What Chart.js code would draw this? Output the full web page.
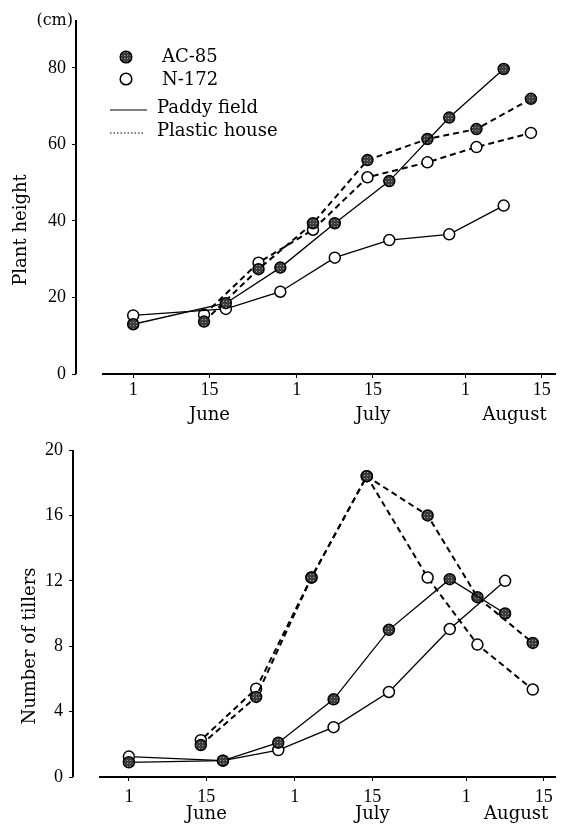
<!DOCTYPE html>
<html>
<head>
<meta charset="utf-8">
<script src="https://cdn.jsdelivr.net/npm/chart.js@4/dist/chart.umd.min.js"></script>
<style>
  html, body { margin: 0; padding: 0; background: #fff; }
  #wrap { position: relative; width: 563px; height: 829px; }
  canvas { position: absolute; left: 0; }
  #top { top: 0; }
  #bottom { top: 420px; }
</style>
</head>
<body>
<div id="wrap">
  <canvas id="top" width="563" height="434"></canvas>
  <canvas id="bottom" width="563" height="409"></canvas>
</div>
<script>
// days counted from June 1 (= day 1)
var paddyDays = [1, 18, 28, 38, 48, 59, 69];
var plasticDays = [14, 24, 34, 44, 55, 64, 74];

// plant height (cm)
var heightAcPaddy = [13.0, 18.5, 27.8, 39.4, 50.4, 67.0, 79.7];
var heightAcPlastic = [13.7, 27.4, 39.4, 55.9, 61.4, 64.0, 71.9];
var heightNPaddy = [15.3, 17.0, 21.5, 30.4, 35.0, 36.5, 44.0];
var heightNPlastic = [15.5, 29.1, 37.7, 51.4, 55.3, 59.3, 63.0];

// number of tillers
var tillerAcPaddy = [0.9, 1.0, 2.1, 4.75, 9.0, 12.1, 10.0];
var tillerAcPlastic = [1.95, 4.9, 12.2, 18.4, 16.0, 11.0, 8.2];
var tillerNPaddy = [1.25, 1.0, 1.65, 3.05, 5.2, 9.05, 12.0];
var tillerNPlastic = [2.25, 5.4, 12.2, 18.4, 12.2, 8.1, 5.35];

// axis ticks
var tickDays = [1, 15, 31, 45, 62, 76];
var tickLabels = ['1', '15', '1', '15', '1', '15'];
var monthNames = ['June', 'July', 'August'];
var monthDays = [15, 45, 71];
var heightTicks = [0, 20, 40, 60, 80];
var tillerTicks = [0, 4, 8, 12, 16, 20];

var numFont = { family: 'Liberation Serif', size: 18 };
var wordFont = '18px "DejaVu Serif"';

Chart.defaults.color = '#000';
Chart.defaults.font.family = 'Liberation Serif';

// speckled fill for the AC-85 markers
function speckle() {
    var c = document.createElement('canvas');
    c.width = 3; c.height = 3;
    var g = c.getContext('2d');
    g.fillStyle = '#3d3d3d';
    g.fillRect(0, 0, 3, 3);
    g.fillStyle = '#9a9a9a';
    g.fillRect(1, 1, 1, 1);
    return g.createPattern(c, 'repeat');
}
var darkFill = speckle();

function series(days, vals, filled, dashed, dashShift) {
    return {
        data: days.map(function (d, i) { return { x: d, y: vals[i] }; }),
        borderColor: '#000',
        borderWidth: dashed ? 2 : 1.3,
        borderDash: dashed ? [6, 4] : [],
        borderDashOffset: dashShift || 0,
        pointRadius: 5.5,
        pointBorderWidth: 1.5,
        pointBorderColor: '#000',
        pointBackgroundColor: filled ? darkFill : '#fff',
        tension: 0,
        fill: false
    };
}

// axis lines: y axis full height, x axis starting a little right of it
var axisLines = {
    id: 'axisLines',
    beforeDatasetsDraw: function (chart) {
        var ctx = chart.ctx, a = chart.chartArea;
        ctx.save();
        ctx.strokeStyle = '#000';
        ctx.lineWidth = 2;
        ctx.beginPath();
        ctx.moveTo(a.left, a.top);
        ctx.lineTo(a.left, a.bottom);
        ctx.moveTo(a.left + 26, a.bottom);
        ctx.lineTo(a.right, a.bottom);
        ctx.stroke();
        ctx.restore();
    }
};

// month names under the day ticks and the rotated y title
function textPlugin(title, titleX, titleY, monthOffset) {
    return {
        id: 'texts',
        afterDraw: function (chart) {
            var ctx = chart.ctx, a = chart.chartArea, xs = chart.scales.x;
            ctx.save();
            ctx.fillStyle = '#000';
            ctx.font = wordFont;
            ctx.textAlign = 'center';
            ctx.textBaseline = 'middle';
            monthNames.forEach(function (m, i) {
                ctx.fillText(m, xs.getPixelForValue(monthDays[i]), a.bottom + monthOffset);
            });
            ctx.translate(titleX, titleY);
            ctx.rotate(-Math.PI / 2);
            ctx.fillText(title, 0, 0);
            ctx.restore();
        }
    };
}

// legend of the upper panel
var legendPlugin = {
    id: 'legendBox',
    afterDraw: function (chart) {
        var ctx = chart.ctx;
        ctx.save();
        ctx.lineWidth = 1.5;
        ctx.strokeStyle = '#000';
        ctx.beginPath();
        ctx.arc(126, 57, 5.8, 0, Math.PI * 2);
        ctx.fillStyle = darkFill;
        ctx.fill();
        ctx.stroke();
        ctx.beginPath();
        ctx.arc(126, 79, 5.8, 0, Math.PI * 2);
        ctx.fillStyle = '#fff';
        ctx.fill();
        ctx.stroke();

        ctx.lineWidth = 1;
        ctx.beginPath();
        ctx.moveTo(110, 110);
        ctx.lineTo(147, 110);
        ctx.stroke();
        ctx.setLineDash([1.5, 2]);
        ctx.beginPath();
        ctx.moveTo(110, 133);
        ctx.lineTo(145, 133);
        ctx.stroke();
        ctx.setLineDash([]);

        ctx.fillStyle = '#000';
        ctx.font = wordFont;
        ctx.textBaseline = 'middle';
        ctx.fillText('AC-85', 162, 57);
        ctx.fillText('N-172', 162, 80);
        ctx.fillText('Paddy field', 157, 108);
        ctx.fillText('Plastic house', 157, 131);

        ctx.font = '16px "DejaVu Serif"';
        ctx.textAlign = 'right';
        ctx.fillText('(cm)', 73, 21);
        ctx.restore();
    }
};

function makeChart(id, datasets, opt) {
    return new Chart(document.getElementById(id), {
        type: 'line',
        data: { datasets: datasets },
        options: {
            responsive: false,
            animation: false,
            events: [],
            layout: { padding: { top: opt.top, right: 3, left: 0, bottom: 0 } },
            plugins: { legend: { display: false }, tooltip: { enabled: false } },
            scales: {
                x: {
                    type: 'linear',
                    min: opt.xMin,
                    max: opt.xMax,
                    afterBuildTicks: function (s) {
                        s.ticks = tickDays.map(function (v) { return { value: v }; });
                    },
                    afterFit: function (s) { s.height = opt.xHeight; },
                    ticks: {
                        autoSkip: false,
                        maxRotation: 0,
                        padding: opt.xPad,
                        font: numFont,
                        callback: function (v, i) { return tickLabels[i]; }
                    },
                    grid: { drawOnChartArea: false, tickLength: 4, color: '#000' },
                    border: { display: false }
                },
                y: {
                    min: 0,
                    max: opt.yMax,
                    afterBuildTicks: function (s) {
                        s.ticks = opt.yTicks.map(function (v) { return { value: v }; });
                    },
                    afterFit: function (s) { s.width = opt.yWidth; },
                    ticks: { padding: 6, font: numFont },
                    grid: { drawOnChartArea: false, tickLength: 4, color: '#000' },
                    border: { display: false }
                }
            }
        },
        plugins: opt.plugins
    });
}

makeChart('top', [
    series(paddyDays, heightAcPaddy, true, false),
    series(plasticDays, heightAcPlastic, true, true),
    series(paddyDays, heightNPaddy, false, false),
    series(plasticDays, heightNPlastic, false, true)
], {
    top: 20, xMin: -9.5, xMax: 78.6, xHeight: 60, xPad: 1, yMax: 92.5,
    yTicks: heightTicks, yWidth: 76,
    plugins: [axisLines, textPlugin('Plant height', 21, 230, 41), legendPlugin]
});

makeChart('bottom', [
    series(paddyDays, tillerAcPaddy, true, false),
    series(plasticDays, tillerAcPlastic, true, true),
    series(paddyDays, tillerNPaddy, false, false),
    series(plasticDays, tillerNPlastic, false, true, 5.3)
], {
    top: 30, xMin: -9.1, xMax: 78.2, xHeight: 52, xPad: 5, yMax: 20,
    yTicks: tillerTicks, yWidth: 73,
    plugins: [axisLines, textPlugin('Number of tillers', 30, 226, 37)]
});
</script>
</body>
</html>
